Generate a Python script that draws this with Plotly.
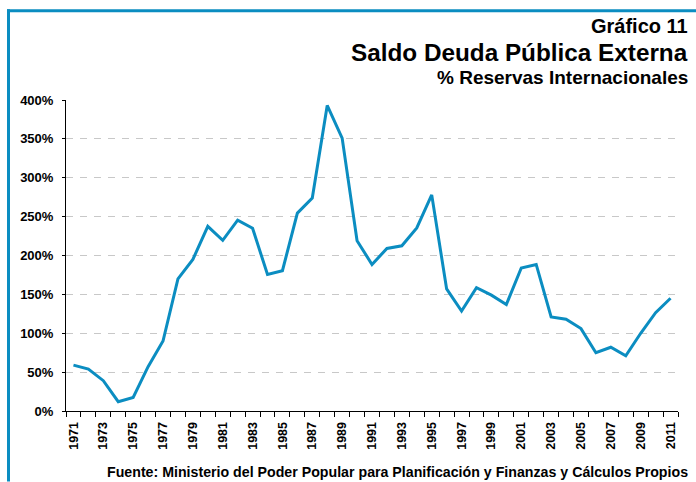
import plotly.graph_objects as go

years = list(range(1971, 2012))
saldo_pct = [59, 54, 39, 12, 17.5, 57, 90, 170, 195, 237.5, 219.5, 245.5, 235, 175.5, 180.5,
             254.5, 274, 393, 351, 219, 188.5, 209, 212.5, 235.5, 278, 157, 128.5, 158.5,
             149, 137, 184, 188.5, 121, 118, 106, 75, 82, 71, 100, 126.5, 145]
y_ticks = [0, 50, 100, 150, 200, 250, 300, 350, 400]
y_tick_labels = [f"{v}%" for v in y_ticks]
x_tick_years = list(range(1971, 2012, 2))

BLUE = "#0b8dc1"
FONT = "Liberation Sans, Arial, sans-serif"

W, H = 696, 482
L, R, T, B = 66, 18, 100, 70.5
pw, ph = W - L - R, H - T - B


def px(x):
    return (x - L) / pw


def py(y):
    return (H - B - y) / ph


fig = go.Figure()
fig.add_trace(go.Scatter(
    x=years, y=saldo_pct, mode="lines",
    line=dict(color=BLUE, width=3),
    hoverinfo="x+y", showlegend=False,
))

fig.update_layout(
    width=W, height=H,
    margin=dict(l=L, r=R, t=T, b=B),
    paper_bgcolor="white", plot_bgcolor="white",
    font=dict(family=FONT, color="#000"),
    xaxis=dict(
        range=[1970.5, 2011.5],
        tickmode="array", tickvals=x_tick_years, ticktext=[str(y) for y in x_tick_years],
        tickangle=-90,
        tickfont=dict(family=FONT, size=12.5, color="#000", weight="bold"),
        ticks="outside", ticklen=5, tickcolor="rgba(0,0,0,0)",
        minor=dict(ticks="outside", ticklen=5, tickcolor="#000", tickwidth=1,
                   tick0=1970.5, dtick=1, showgrid=False),
        showline=True, linecolor="#000", linewidth=1,
        showgrid=False, zeroline=False, fixedrange=True,
    ),
    yaxis=dict(
        range=[0, 400],
        tickmode="array", tickvals=y_ticks, ticktext=y_tick_labels,
        tickfont=dict(family=FONT, size=13, color="#000", weight="bold"),
        ticks="outside", ticklen=3, tickcolor="#000",
        ticklabelstandoff=6,
        showline=True, linecolor="#000", linewidth=1,
        showgrid=True, gridcolor="#c8c8c8", gridwidth=1, griddash="7px,7px",
        zeroline=False, fixedrange=True,
    ),
    annotations=[
        dict(text="<b>Gráfico 11</b>", x=px(690), y=py(26), xref="paper", yref="paper",
             xanchor="right", yanchor="middle", showarrow=False,
             font=dict(family=FONT, size=20, color="#000")),
        dict(text="<b>Saldo Deuda Pública Externa</b>", x=px(690), y=py(52), xref="paper", yref="paper",
             xanchor="right", yanchor="middle", showarrow=False,
             font=dict(family=FONT, size=24.3, color="#000")),
        dict(text="<b>% Reservas Internacionales</b>", x=px(690), y=py(77), xref="paper", yref="paper",
             xanchor="right", yanchor="middle", showarrow=False,
             font=dict(family=FONT, size=19, color="#000")),
        dict(text="<b>Fuente: Ministerio del Poder Popular para Planificación y Finanzas y Cálculos Propios</b>",
             x=px(690), y=py(472.5), xref="paper", yref="paper",
             xanchor="right", yanchor="middle", showarrow=False,
             font=dict(family=FONT, size=14.2, color="#000")),
    ],
    shapes=[
        dict(type="line", xref="paper", yref="paper", x0=px(7), x1=px(696), y0=py(10.5), y1=py(10.5),
             line=dict(color=BLUE, width=3)),
        dict(type="line", xref="paper", yref="paper", x0=px(8.5), x1=px(8.5), y0=py(9), y1=py(482),
             line=dict(color=BLUE, width=3)),
    ],
)

fig.write_html("out.html", config={"displayModeBar": False},
               post_script="document.body.style.margin='0';document.body.style.overflow='hidden';")
